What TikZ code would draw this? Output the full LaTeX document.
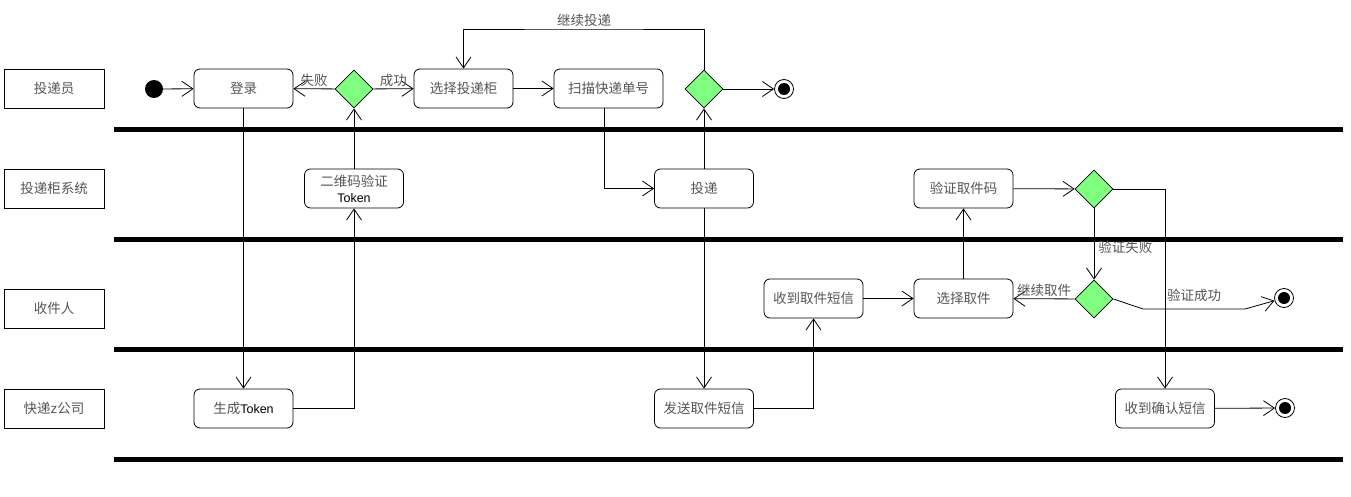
\documentclass[tikz,border=0pt]{standalone}
\usepackage{fontspec}
\setmainfont{Liberation Sans}
\newfontfamily\cjk{Noto Sans CJK SC}
\usetikzlibrary{arrows.meta,shapes.geometric}
\definecolor{choicegreen}{HTML}{80FF80}
\definecolor{labelgray}{HTML}{555555}

\begin{document}
\begin{tikzpicture}[x=1pt,y=-1pt,
    flow/.style={draw,line width=0.8pt,-{Straight Barb[length=11pt,width=15pt,line width=0.8pt]}},
    lane/.style={draw,line width=0.8pt,rectangle,minimum width=100pt,minimum height=39pt,inner sep=0pt},
    act/.style={draw,line width=0.8pt,rounded corners=6pt,minimum width=99pt,minimum height=39pt,inner sep=3pt,align=center}]
\tikzset{every node/.style={font=\cjk\fontsize{13.5}{16}\selectfont,text=labelgray}}
\tikzset{choice/.style={draw,line width=0.8pt,diamond,fill=choicegreen,minimum width=38pt,minimum height=38pt,inner sep=0pt},
         start/.style={circle,fill=black,minimum size=18pt,inner sep=0pt},
         final/.style={circle,draw,line width=0.8pt,fill=white,minimum size=19pt,inner sep=0pt,
                       path picture={\fill[black] (path picture bounding box.center) circle (6pt);}}}
%\tikzset{every node/.style={font=\cjk\large,
%                            text=black}}
\useasboundingbox (0,0) rectangle (1351,497);

\node[lane] (l1) at (54,88.5) {投递员};
\node[lane] (l2) at (54,188.5) {投递柜系统};
\node[lane] (l3) at (54,308.5) {收件人};
\node[lane] (l4) at (54,408.5) {快递{\rmfamily z}公司};
\foreach \y in {129.5,239,349,459}
    \draw[line width=5pt] (114,\y) -- (1343,\y);

\node[start] (init) at (154,89) {};
\node[act] (login) at (243.5,88.5) {登录};
\node[choice] (d1) at (354,89) {};
\node[act] (choose) at (463.5,88.5) {选择投递柜};
\node[act,minimum width=109pt] (scan) at (608.5,88.5) {扫描快递单号};
\node[choice] (d2) at (704,89) {};
\node[final] (end1) at (784,89) {};
\node[act] (qr) at (354,188.5) {二维码验证\\{\rmfamily\color{black}\fontsize{12.5}{16}\selectfont Token}};
\node[act] (deliver) at (704,188.5) {投递};
\node[act] (verify) at (963.5,188.5) {验证取件码};
\node[choice] (d3) at (1094,189) {};
\node[act] (recvsms) at (813.5,298.5) {收到取件短信};
\node[act] (pick) at (963.5,298.5) {选择取件};
\node[choice] (d4) at (1094,299) {};
\node[final] (end2) at (1284,298) {};
\node[act] (gentoken) at (243.5,408.5) {生成{\rmfamily\color{black}\fontsize{12.5}{16}\selectfont Token}};
\node[act] (sendsms) at (704,408.5) {发送取件短信};
\node[act] (confirm) at (1165,408.5) {收到确认短信};
\node[final] (end3) at (1285,408) {};

\coordinate (loop) at (584,29);
\coordinate (k1) at (1143,309);
\coordinate (k2) at (1245,309);

\draw[flow] (init) -- (login);
\draw[flow] (d1) -- node[above,inner sep=2pt] {失败} (login);
\draw[flow] (d1) -- node[above,inner sep=2pt] {成功} (choose);
\draw[flow] (choose) -- (scan);
\draw[flow] (d2) -- (end1);
\draw[flow] (d2.north) |- (loop) node[above,inner sep=1.5pt] {继续投递} -| (choose.north);
\draw[flow] (login.south) -- (gentoken.north);
\draw[flow] (gentoken.east) -| (qr.south);
\draw[flow] (qr.north) -- (d1.south);
\draw[flow] ([xshift=-4.5pt]scan.south) |- (deliver.west);
\draw[flow] (deliver.north) -- (d2.south);
\draw[flow] (deliver.south) -- (sendsms.north);
\draw[flow] (sendsms.east) -| (recvsms.south);
\draw[flow] (recvsms) -- (pick);
\draw[flow] (pick.north) -- (verify.south);
\draw[flow] (verify) -- (d3);
\draw[flow] (d3.south) -- node[right,pos=0.55,inner sep=4pt] {验证失败} (d4.north);
\draw[flow] (d4) -- node[above,inner sep=2pt] {继续取件} (pick);
\draw[flow] (d4.east) -- (k1) -- node[above,inner sep=7pt] {验证成功} (k2) -- (end2);
\draw[flow] (d3.east) -| (confirm.north);
\draw[flow] (confirm) -- (end3);
\end{tikzpicture}
\end{document}
